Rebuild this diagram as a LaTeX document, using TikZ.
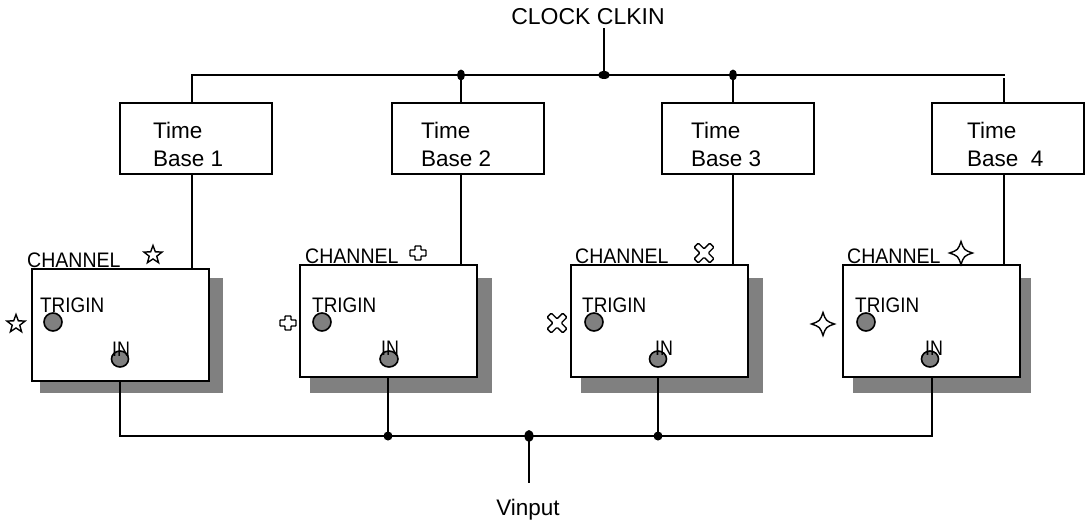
\documentclass[tikz,border=0pt]{standalone}
\usepackage{fontspec}
\setmainfont{Liberation Sans}
\usetikzlibrary{shapes.geometric,backgrounds}
\definecolor{shadowgray}{RGB}{128,128,128}
\tikzset{
  wire/.style={line width=2pt,line cap=rect},
  tbbox/.style={draw,line width=2pt,rectangle,inner sep=0pt,minimum width=152pt,minimum height=71pt,fill=white},
  chbox/.style={draw,line width=2pt,rectangle,inner sep=0pt,minimum width=177pt,minimum height=112pt,fill=white},
  bigtxt/.style={inner sep=0pt,font=\fontsize{22.5}{27}\selectfont},
  chtxt/.style={inner sep=0pt,anchor=base west,font=\fontsize{21}{24}\selectfont},
  port/.style={draw,fill=shadowgray,line width=1.6pt,inner sep=0pt},
  dot/.style={ellipse,fill=black,inner sep=0pt,minimum width=8pt,minimum height=11pt},
  symline/.style={line width=1.4pt},
  starsym/.style={star,star points=5,star point ratio=2.4,draw,line width=1.4pt,minimum size=19pt,inner sep=0pt},
  crosssym/.pic={\draw[symline,rounded corners=0.6pt] (-3,-7) -- (3,-7) -- (3,-3) -- (8,-3) -- (8,3) -- (3,3) -- (3,7) -- (-3,7) -- (-3,3) -- (-8,3) -- (-8,-3) -- (-3,-3) -- cycle;},
  xsym/.pic={\draw[symline,rounded corners=1pt,rotate=45] (-3,-11) -- (3,-11) -- (3,-3) -- (11,-3) -- (11,3) -- (3,3) -- (3,11) -- (-3,11) -- (-3,3) -- (-11,3) -- (-11,-3) -- (-3,-3) -- cycle;},
  fourstar/.pic={\draw[symline] (0,-11.5) .. controls (3,-3) .. (11.5,0) .. controls (3,3) .. (0,11.5) .. controls (-3,3) .. (-11.5,0) .. controls (-3,-3) .. (0,-11.5) -- cycle;}
}
\begin{document}
\begin{tikzpicture}[x=1pt,y=-1pt]
\begin{scope}[on background layer]
  \fill[white] (0,0) rectangle (1087,522);
\end{scope}
\useasboundingbox (0,0) rectangle (1087,522);

% clock
\node[bigtxt,anchor=base,font=\fontsize{23}{27}\selectfont] (clk) at (588,24) {CLOCK CLKIN};
\coordinate (clktop) at (604,29);

% time base boxes
\node[tbbox] (tb1) at (196,138.5) {};
\node[tbbox] (tb2) at (467.5,138.5) {};
\node[tbbox] (tb3) at (738,138.5) {};
\node[tbbox] (tb4) at (1008,138.5) {};
\node[bigtxt,anchor=base west] (tt1) at (153,138) {Time};
\node[bigtxt,anchor=base west] (tb1l) at (153,166) {Base 1};
\node[bigtxt,anchor=base west] (tt2) at (421,138) {Time};
\node[bigtxt,anchor=base west] (tb2l) at (421,166) {Base 2};
\node[bigtxt,anchor=base west] (tt3) at (691,138) {Time};
\node[bigtxt,anchor=base west] (tb3l) at (691,166) {Base 3};
\node[bigtxt,anchor=base west] (tt4) at (967,138) {Time};
\node[bigtxt,anchor=base west] (tb4l) at (967,166) {Base\ \ 4};

% channel boxes
\node[chbox] (ch1) at (120,325) {};
\node[chbox] (ch2) at (388.5,321) {};
\node[chbox] (ch3) at (659.5,321) {};
\node[chbox] (ch4) at (931.5,321) {};
\begin{scope}[on background layer]
  \fill[shadowgray] ([shift={(9,10)}]ch1.north west) rectangle ([shift={(13,11)}]ch1.south east);
  \fill[shadowgray] ([shift={(11,14)}]ch2.north west) rectangle ([shift={(14,15)}]ch2.south east);
  \fill[shadowgray] ([shift={(11,14)}]ch3.north west) rectangle ([shift={(14,15)}]ch3.south east);
  \fill[shadowgray] ([shift={(11,14)}]ch4.north west) rectangle ([shift={(10,15)}]ch4.south east);
\end{scope}

% channel labels
\node[chtxt] (cl1) at (27,267) {\scalebox{0.93}[1]{CHANNEL}};
\node[chtxt] (cl2) at (305,263) {\scalebox{0.93}[1]{CHANNEL}};
\node[chtxt] (cl3) at (575,263) {\scalebox{0.93}[1]{CHANNEL}};
\node[chtxt] (cl4) at (847,263) {\scalebox{0.93}[1]{CHANNEL}};

\node[chtxt] (tr1) at (40,312) {\scalebox{0.9}[1]{TRIGIN}};
\node[chtxt] (tr2) at (312,312) {\scalebox{0.9}[1]{TRIGIN}};
\node[chtxt] (tr3) at (582,312) {\scalebox{0.9}[1]{TRIGIN}};
\node[chtxt] (tr4) at (855,312) {\scalebox{0.9}[1]{TRIGIN}};

\node[port,circle,minimum size=18pt] (tp1) at (53,322) {};
\node[port,circle,minimum size=18pt] (tp2) at (322,322) {};
\node[port,circle,minimum size=18pt] (tp3) at (594,322) {};
\node[port,circle,minimum size=18pt] (tp4) at (866,322) {};

\node[port,ellipse,minimum width=17pt,minimum height=16pt] (ip1) at (120,359) {};
\node[port,ellipse,minimum width=18pt,minimum height=16pt] (ip2) at (389,359) {};
\node[port,ellipse,minimum width=17pt,minimum height=16pt] (ip3) at (658,359) {};
\node[port,ellipse,minimum width=17pt,minimum height=16pt] (ip4) at (930,359) {};

\node[chtxt] (in1) at (112,356) {\scalebox{0.85}[1]{IN}};
\node[chtxt] (in2) at (381,355) {\scalebox{0.85}[1]{IN}};
\node[chtxt] (in3) at (655,355) {\scalebox{0.85}[1]{IN}};
\node[chtxt] (in4) at (925,355) {\scalebox{0.85}[1]{IN}};

% symbols
\node[starsym] (s1a) at (153,255) {};
\node[starsym] (s1b) at (16,324) {};
\pic (s2a) at (418,253) {crosssym};
\pic (s2b) at (288,323) {crosssym};
\pic (s3a) at (704,253) {xsym};
\pic (s3b) at (557,323) {xsym};
\pic (s4a) at (961,253) {fourstar};
\pic (s4b) at (823,324) {fourstar};

% top bus
\coordinate (b1) at (192,75);
\coordinate (j2) at (461,75);
\coordinate (jc) at (604,75);
\coordinate (j3) at (733,75);
\coordinate (b4) at (1004,75);
\coordinate (b4g) at (1004,79);
\draw[wire] (tb1.north -| b1) -- (b1) -- (b4);
\draw[wire] (j2) -- (j2 |- tb2.north);
\draw[wire] (j3) -- (j3 |- tb3.north);
\draw[wire] (b4g) -- (b4g |- tb4.north);
\draw[wire] (clktop) -- (jc);
\node[dot] (d2) at (j2) {};
\node[dot,minimum width=12pt,minimum height=8pt] (dc) at (jc) {};
\node[dot] (d3) at (j3) {};

% time base to channel
\draw[wire] (tb1.south -| b1) -- (b1 |- ch1.north);
\draw[wire] (tb2.south -| j2) -- (j2 |- ch2.north);
\draw[wire] (tb3.south -| j3) -- (j3 |- ch3.north);
\draw[wire] (tb4.south -| b4) -- (b4 |- ch4.north);

% bottom bus
\coordinate (k1) at (120,436);
\coordinate (k2) at (388,436);
\coordinate (kv) at (529,436);
\coordinate (k3) at (658,436);
\coordinate (k4) at (932,436);
\coordinate (vbot) at (529,482);
\draw[wire] (ch1.south -| k1) -- (k1) -- (k4) -- (ch4.south -| k4);
\draw[wire] (ch2.south -| k2) -- (k2);
\draw[wire] (ch3.south -| k3) -- (k3);
\draw[wire] (kv) -- (vbot);
\node[dot,minimum width=9pt,minimum height=9pt] (e2) at (k2) {};
\node[dot,minimum width=9pt,minimum height=12pt] (ev) at (kv) {};
\node[dot,minimum width=9pt,minimum height=9pt] (e3) at (k3) {};
\node[bigtxt,anchor=base] (vin) at (528,515) {Vinput};
\end{tikzpicture}
\end{document}
